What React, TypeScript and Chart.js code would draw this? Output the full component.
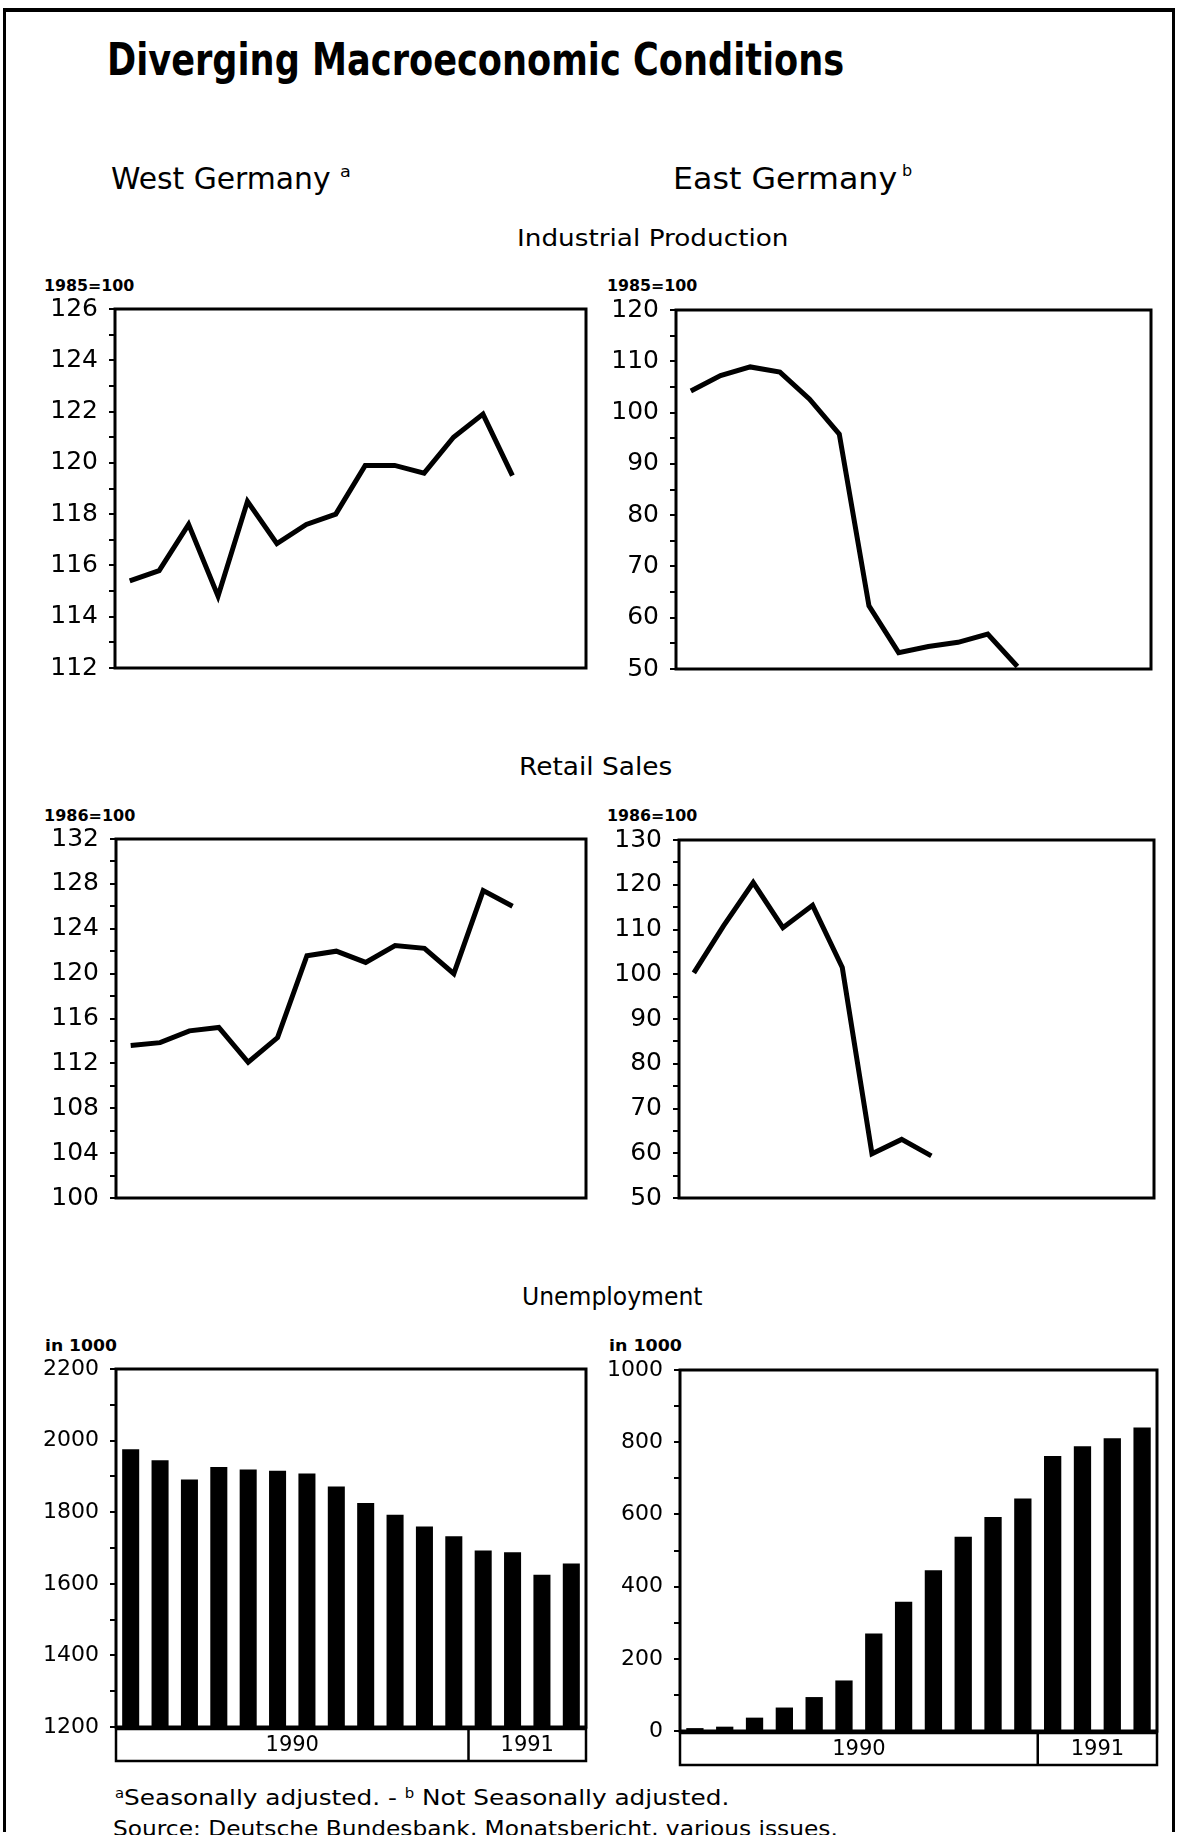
import React, { useEffect, useLayoutEffect, useRef, useState } from 'react';
import { Chart, registerables } from 'chart.js';

Chart.register(...registerables);

// ---------- data ----------
const months = [
  'Jan 1990', 'Feb 1990', 'Mar 1990', 'Apr 1990', 'May 1990', 'Jun 1990',
  'Jul 1990', 'Aug 1990', 'Sep 1990', 'Oct 1990', 'Nov 1990', 'Dec 1990',
  'Jan 1991', 'Feb 1991', 'Mar 1991', 'Apr 1991',
];
const yearLabels = ['1990', '1991'];
const yearMonthCounts = [12, 4];

const westIndustrialProduction = [115.4, 115.8, 117.6, 114.8, 118.5, 116.85, 117.6, 118.0, 119.9, 119.9, 119.6, 121.0, 121.9, 119.5];
const eastIndustrialProduction = [104.2, 107.2, 108.9, 107.9, 102.6, 95.8, 62.3, 53.2, 54.4, 55.2, 56.8, 50.5];
const westRetailSales = [113.6, 113.85, 114.9, 115.2, 112.1, 114.3, 121.6, 122.0, 121.0, 122.5, 122.25, 120.0, 127.4, 126.0];
const eastRetailSales = [100.3, 110.8, 120.5, 110.4, 115.4, 101.5, 59.9, 63.1, 59.4];
const westUnemployment = [1976, 1945, 1891, 1926, 1919, 1916, 1908, 1872, 1826, 1793, 1760, 1733, 1693, 1688, 1625, 1657];
const eastUnemployment = [8, 12, 37, 65, 94, 140, 270, 358, 445, 538, 593, 644, 762, 789, 811, 841];

const westIPTicks = [112, 114, 116, 118, 120, 122, 124, 126];
const eastIPTicks = [50, 60, 70, 80, 90, 100, 110, 120];
const westRetailTicks = [100, 104, 108, 112, 116, 120, 124, 128, 132];
const eastRetailTicks = [50, 60, 70, 80, 90, 100, 110, 120, 130];
const westUnempTicks = [1200, 1400, 1600, 1800, 2000, 2200];
const eastUnempTicks = [0, 200, 400, 600, 800, 1000];

const FONT = 'DejaVu Sans';

// ---------- text helper ----------
function Txt({ x, capTop, size, width, weight, children }: any) {
  const ref = useRef<HTMLDivElement>(null);
  const [sx, setSx] = useState(1);
  useLayoutEffect(() => {
    if (ref.current && width) {
      const w = ref.current.offsetWidth;
      if (w > 0) setSx(width / w);
    }
  }, [width]);
  return (
    <div
      ref={ref}
      style={{
        position: 'absolute',
        left: x,
        top: capTop - 0.117 * size,
        fontSize: size,
        lineHeight: 1,
        fontFamily: FONT,
        fontWeight: weight || 'normal',
        whiteSpace: 'nowrap',
        color: '#000',
        transform: `scaleX(${sx})`,
        transformOrigin: '0 0',
      }}
    >
      {children}
    </div>
  );
}

// ---------- chart panel ----------
function Panel({ kind, values, ticks, left, top, right, bottom, tickFont }: any) {
  const ref = useRef<HTMLCanvasElement>(null);
  const AXIS_W = 105;
  const PAD_T = 30;
  const PAD_R = 12;
  const PAD_B = kind === 'bar' ? 45 : 24;
  const cw = right - left + AXIS_W + PAD_R;
  const ch = bottom - top + PAD_T + PAD_B;

  useEffect(() => {
    const major = ticks[1] - ticks[0];
    const minor = major / 2;
    const min = ticks[0];
    const max = ticks[ticks.length - 1];

    const framePlugin = {
      id: 'frameBox',
      afterDraw(chart: any) {
        const { ctx, chartArea: a } = chart;
        ctx.save();
        ctx.strokeStyle = '#000';
        ctx.lineWidth = 3;
        ctx.strokeRect(a.left, a.top, a.right - a.left, a.bottom - a.top);
        if (kind === 'bar') {
          const xs = chart.scales.x;
          const slot = (a.right - a.left) / months.length;
          const bt = a.bottom + 2;
          const bh = 32;
          ctx.lineWidth = 2.5;
          ctx.strokeRect(a.left, bt, a.right - a.left, bh);
          ctx.fillStyle = '#000';
          ctx.font = `21px "${FONT}"`;
          ctx.textAlign = 'center';
          ctx.textBaseline = 'middle';
          let start = 0;
          yearLabels.forEach((lab, i) => {
            const x0 = xs.getPixelForValue(start) - slot / 2;
            start += yearMonthCounts[i];
            const x1 = xs.getPixelForValue(start - 1) + slot / 2;
            if (i > 0) {
              ctx.beginPath();
              ctx.moveTo(x0, bt);
              ctx.lineTo(x0, bt + bh);
              ctx.stroke();
            }
            ctx.fillText(lab, (x0 + x1) / 2, bt + bh / 2 + 1);
          });
        }
        ctx.restore();
      },
    };

    const chart = new Chart(ref.current as HTMLCanvasElement, {
      type: kind,
      data: {
        labels: months,
        datasets: [
          {
            data: values,
            borderColor: '#000',
            backgroundColor: '#000',
            borderWidth: kind === 'line' ? 5 : 0,
            pointRadius: 0,
            tension: 0,
            fill: false,
            barPercentage: 0.58,
            categoryPercentage: 1,
          } as any,
        ],
      },
      options: {
        responsive: false,
        animation: false,
        devicePixelRatio: 1,
        layout: { padding: { left: 0, top: PAD_T, right: PAD_R, bottom: PAD_B } },
        plugins: { legend: { display: false }, tooltip: { enabled: false } },
        scales: {
          x: { display: false, offset: true },
          y: {
            min,
            max,
            afterFit: (s: any) => {
              s.width = AXIS_W;
            },
            border: { display: false },
            grid: {
              drawOnChartArea: false,
              drawTicks: true,
              tickLength: 6,
              color: '#000',
              lineWidth: 2,
            },
            ticks: {
              stepSize: minor,
              maxTicksLimit: 100,
              autoSkip: false,
              padding: 11,
              color: '#000',
              font: { family: FONT, size: tickFont },
              callback: (v: any) => (ticks.includes(Number(v)) ? String(v) : ''),
            },
          },
        },
      } as any,
      plugins: [framePlugin],
    });
    return () => chart.destroy();
  }, []);

  return (
    <canvas
      ref={ref}
      width={cw}
      height={ch}
      style={{ position: 'absolute', left: left - AXIS_W, top: top - PAD_T, width: cw, height: ch }}
    />
  );
}

export default function App() {
  return (
    <div
      style={{
        position: 'absolute',
        left: 0,
        top: 0,
        width: 1178,
        height: 1835,
        overflow: 'hidden',
        background: '#fff',
      }}
    >
      {/* page frame */}
      <div
        style={{
          position: 'absolute',
          left: 3,
          top: 8,
          width: 1166,
          height: 1820,
          borderTop: '4px solid #000',
          borderLeft: '3px solid #000',
          borderRight: '3px solid #000',
        }}
      />

      <Txt x={107} capTop={42} size={45} width={737} weight="bold">
        Diverging Macroeconomic Conditions
      </Txt>

      <Txt x={111} capTop={167} size={31} width={220}>West Germany</Txt>
      <Txt x={340} capTop={166} size={16} width={11}>a</Txt>
      <Txt x={673} capTop={167} size={31} width={224}>East Germany</Txt>
      <Txt x={902} capTop={165} size={16} width={10}>b</Txt>

      <Txt x={517} capTop={230} size={23} width={272}>Industrial Production</Txt>
      <Txt x={519} capTop={758} size={24} width={153}>Retail Sales</Txt>
      <Txt x={522} capTop={1288} size={24} width={180}>Unemployment</Txt>

      <Txt x={44} capTop={280} size={16} width={90} weight="bold">1985=100</Txt>
      <Txt x={607} capTop={280} size={16} width={90} weight="bold">1985=100</Txt>
      <Txt x={44} capTop={810} size={16} width={91} weight="bold">1986=100</Txt>
      <Txt x={607} capTop={810} size={16} width={90} weight="bold">1986=100</Txt>
      <Txt x={45} capTop={1340} size={16} width={72} weight="bold">in 1000</Txt>
      <Txt x={609} capTop={1340} size={16} width={73} weight="bold">in 1000</Txt>

      <Panel kind="line" values={westIndustrialProduction} ticks={westIPTicks} left={115} top={309} right={586} bottom={670} tickFont={25} />
      <Panel kind="line" values={eastIndustrialProduction} ticks={eastIPTicks} left={676} top={310} right={1151} bottom={671} tickFont={25} />
      <Panel kind="line" values={westRetailSales} ticks={westRetailTicks} left={116} top={839} right={586} bottom={1200} tickFont={25} />
      <Panel kind="line" values={eastRetailSales} ticks={eastRetailTicks} left={679} top={840} right={1154} bottom={1200} tickFont={25} />
      <Panel kind="bar" values={westUnemployment} ticks={westUnempTicks} left={116} top={1369} right={586} bottom={1727} tickFont={22} />
      <Panel kind="bar" values={eastUnemployment} ticks={eastUnempTicks} left={680} top={1370} right={1157} bottom={1731} tickFont={22} />

      <Txt x={115} capTop={1790} size={22} width={614}>
        <sup style={{ fontSize: '0.6em', verticalAlign: '0.55em', lineHeight: 0 }}>a</sup>
        Seasonally adjusted. - <sup style={{ fontSize: '0.6em', verticalAlign: '0.55em', lineHeight: 0 }}>b</sup> Not Seasonally adjusted.
      </Txt>
      <Txt x={113} capTop={1821} size={22} width={725}>
        Source: Deutsche Bundesbank, Monatsbericht, various issues.
      </Txt>
    </div>
  );
}
